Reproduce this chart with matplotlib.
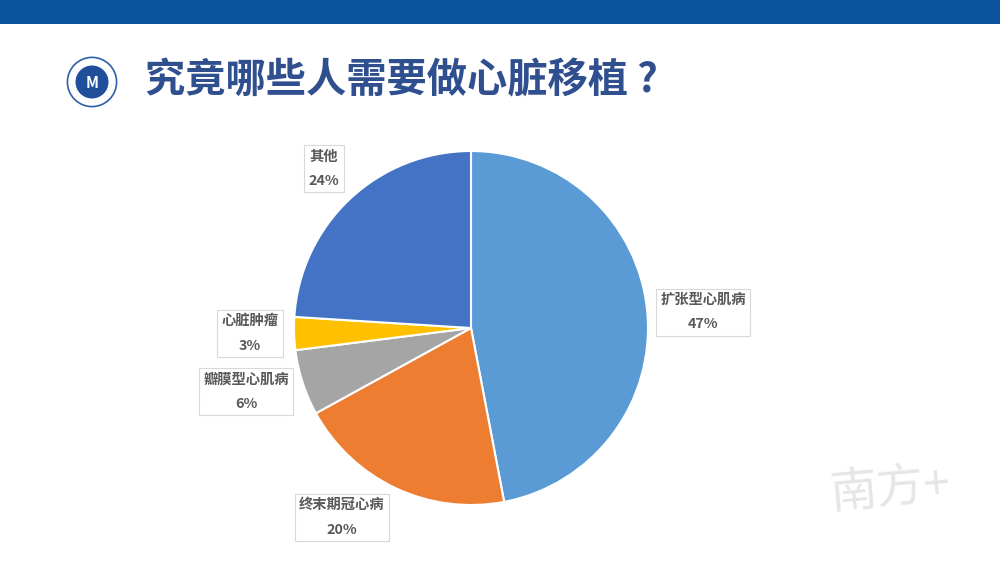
import matplotlib.pyplot as plt
from matplotlib.patches import Rectangle, Circle

plt.rcParams['font.family'] = ['Noto Sans CJK SC', 'DejaVu Sans']

# Data
categories = ["扩张型心肌病", "终末期冠心病", "瓣膜型心肌病", "心脏肿瘤", "其他"]
shares = [47, 20, 6, 3, 24]
colors = ["#5B9BD5", "#ED7D31", "#A5A5A5", "#FFC000", "#4472C4"]
# label centres in pie data units (radius = 1)
label_pos = [(1.31, 0.09), (-0.73, -1.07), (-1.27, -0.36), (-1.25, -0.03), (-0.83, 0.90)]

fig = plt.figure(figsize=(10, 5.63), dpi=100)
fig.patch.set_facecolor("white")

# header bar
fig.patches.append(Rectangle((0, 1 - 24 / 563), 1, 24 / 563, transform=fig.transFigure,
                             facecolor="#0B559F", edgecolor="none"))

# logo
logo = fig.add_axes([0.062, 1 - 112 / 563, 0.06, 60 / 563])
logo.set_aspect("equal")
logo.set_xlim(-1, 1)
logo.set_ylim(-1, 1)
logo.axis("off")
logo.add_patch(Circle((0, 0), 0.82, facecolor="white", edgecolor="#2E5FA8", lw=1.2))
logo.add_patch(Circle((0, 0), 0.55, facecolor="#1F4E9A", edgecolor="none"))
logo.text(0, -0.05, "M", ha="center", va="center", color="white", fontsize=11, fontweight="bold")

# title
fig.text(0.145, 1 - 81 / 563, "究竟哪些人需要做心脏移植 ?", fontsize=29, fontweight="black",
         color="#2F4F8F", va="center", ha="left")

# pie
ax = fig.add_axes([0.294, 0.1030, 0.354, 0.6288])
ax.pie(shares, colors=colors, startangle=90, counterclock=False, radius=1,
       wedgeprops=dict(edgecolor="white", linewidth=1.5))
ax.set_xlim(-1, 1)
ax.set_ylim(-1, 1)
ax.set_aspect("equal")

for name, val, (x, y) in zip(categories, shares, label_pos):
    ax.text(x, y, f"{name}\n{val}%", ha="center", va="center", fontsize=10.3,
            fontweight="bold", color="#595959", linespacing=1.95, clip_on=False,
            bbox=dict(boxstyle="square,pad=0.3", facecolor="white", edgecolor="#D9D9D9", lw=0.8))

# watermark
fig.text(0.89, 1 - 490 / 563, "南方+", fontsize=34, color="#E6E6E6", ha="center", va="center",
         style="italic", rotation=5, fontweight="light")

fig.savefig("out.png", dpi=100)
